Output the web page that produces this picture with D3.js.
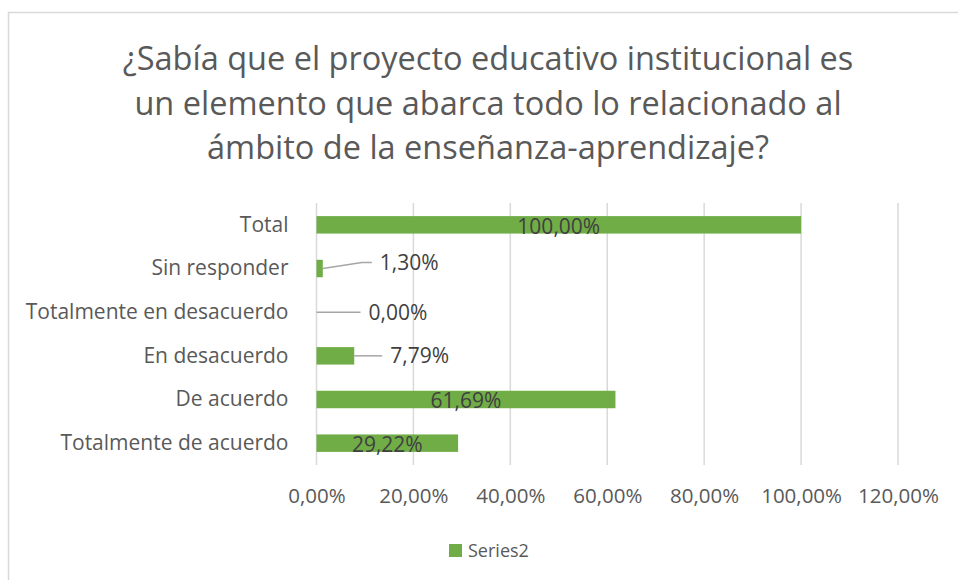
<!DOCTYPE html>
<html>
<head>
<meta charset="utf-8">
<script src="https://cdn.jsdelivr.net/npm/d3@7"></script>
<style>
  body { margin: 0; background: #fff; }
  text { font-family: "Open Sans", sans-serif; }
</style>
</head>
<body>
<div id="graph"></div>
<script>
var categories = ["Total", "Sin responder", "Totalmente en desacuerdo", "En desacuerdo", "De acuerdo", "Totalmente de acuerdo"]
var values = [1.0, 0.013, 0.0, 0.0779, 0.6169, 0.2922]
var ticks = [0, 0.2, 0.4, 0.6, 0.8, 1.0, 1.2]
var titleLines = ["¿Sabía que el proyecto educativo institucional es", "un elemento que abarca todo lo relacionado al", "ámbito de la enseñanza-aprendizaje?"]
var seriesName = "Series2"

var width = 958, height = 580
var green = "#70ad47"
var fmt = function(v){ return d3.format(".2f")(v * 100).replace(".", ",") + "%" }

var svg = d3.select("#graph").append("svg")
    .attr("width", width)
    .attr("height", height)

// chart area border (right and bottom edges fall off the picture)
svg.append("rect")
    .attr("x", 8.5).attr("y", 12.5)
    .attr("width", 1000).attr("height", 600)
    .attr("fill", "#fff")
    .attr("stroke", "#d9d9d9")
    .attr("stroke-width", 1.5)

// title
svg.append("g").selectAll("text")
    .data(titleLines)
    .enter().append("text")
    .attr("x", 488)
    .attr("y", function(d, i){ return 70 + i * 44.5 })
    .attr("text-anchor", "middle")
    .attr("fill", "#595959")
    .style("font-size", "32.5px")
    .text(function(d){ return d })

var x = d3.scaleLinear().domain([0, 1.2]).range([316.5, 898])
var y = d3.scaleBand().domain(categories).range([203, 465]).paddingInner(0.6).paddingOuter(0.3)

// gridlines
svg.append("g").selectAll("line")
    .data(ticks)
    .enter().append("line")
    .attr("x1", function(d){ return x(d) }).attr("x2", function(d){ return x(d) })
    .attr("y1", 203).attr("y2", 465)
    .attr("stroke", "#d9d9d9")
    .attr("stroke-width", 1.5)

// x axis labels
var xAxis = svg.append("g")
    .attr("transform", "translate(0,465)")
    .call(d3.axisBottom(x).tickValues(ticks).tickFormat(fmt).tickSize(0).tickPadding(23))
xAxis.select(".domain").remove()
xAxis.selectAll("text")
    .attr("fill", "#595959")
    .style("font-size", "20.5px")
    .style("font-family", "Open Sans, sans-serif")

// y axis labels
var yAxis = svg.append("g")
    .attr("transform", "translate(316.5,0)")
    .call(d3.axisLeft(y).tickSize(0).tickPadding(28))
yAxis.select(".domain").remove()
yAxis.selectAll("text")
    .attr("fill", "#595959")
    .style("font-size", "21px")
    .style("font-family", "Open Sans, sans-serif")

// bars
svg.append("g").selectAll("rect")
    .data(values)
    .enter().append("rect")
    .attr("x", x(0))
    .attr("y", function(d, i){ return y(categories[i]) })
    .attr("width", function(d){ return x(d) - x(0) })
    .attr("height", y.bandwidth())
    .attr("fill", green)

// data labels: big bars inside, small bars outside with a leader line
// [leader length from bar end, vertical shift of label]
var outside = { "Sin responder": [49, -6], "Totalmente en desacuerdo": [44, 0], "En desacuerdo": [28, 0] }
var labels = svg.append("g")
categories.forEach(function(c, i){
  var v = values[i]
  var cy = y(c) + y.bandwidth() / 2
  var off = outside[c]
  if (off) {
    var x0 = x(v)
    var lx = x(v) + off[0]
    var pts = off[1] ? [[x0, cy], [lx - 10, cy + off[1]], [lx, cy + off[1]]] : [[x0, cy], [lx, cy]]
    labels.append("path")
        .attr("d", d3.line()(pts))
        .attr("fill", "none")
        .attr("stroke", "#a6a6a6")
        .attr("stroke-width", 1.5)
    labels.append("text")
        .attr("x", lx + 8)
        .attr("y", cy + off[1])
        .attr("dy", "0.36em")
        .attr("fill", "#404040")
        .style("font-size", "21px")
        .text(fmt(v))
  } else {
    labels.append("text")
        .attr("x", (x(0) + x(v)) / 2)
        .attr("y", cy)
        .attr("dy", "0.42em")
        .attr("text-anchor", "middle")
        .attr("fill", "#404040")
        .style("font-size", "21px")
        .text(fmt(v))
  }
})

// legend
var legend = svg.append("g").attr("transform", "translate(449,544)")
legend.append("rect").attr("width", 13).attr("height", 13).attr("fill", green)
legend.append("text")
    .attr("x", 19).attr("y", 6.5).attr("dy", "0.36em")
    .attr("fill", "#595959")
    .style("font-size", "18px")
    .text(seriesName)
</script>
</body>
</html>
